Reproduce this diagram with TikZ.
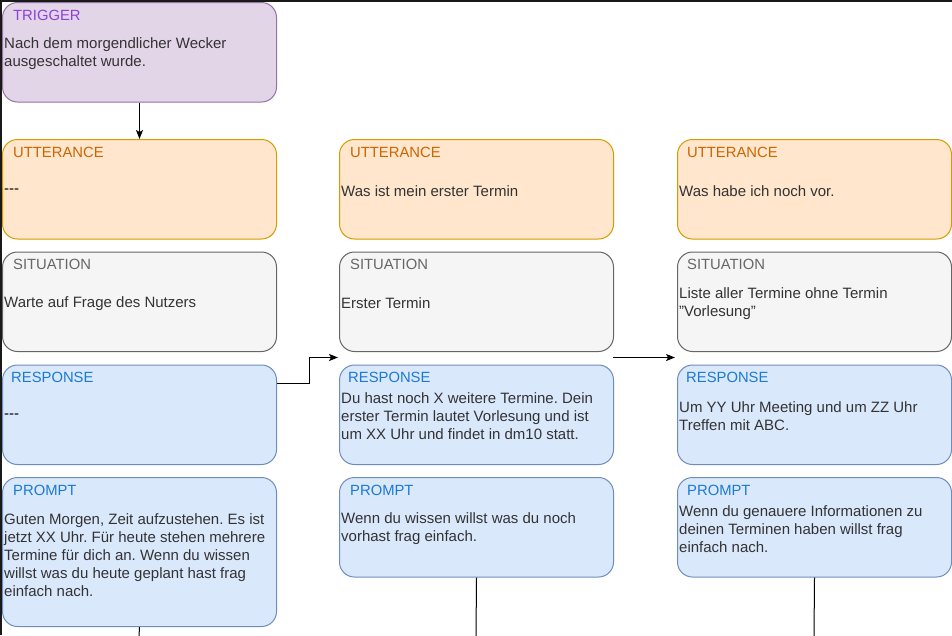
\documentclass[tikz,border=0pt]{standalone}
\usepackage{fontspec}
\setmainfont[Ligatures=NoCommon]{Liberation Sans}
\usetikzlibrary{arrows.meta}
\frenchspacing
\definecolor{trigfill}{HTML}{E1D5E7}
\definecolor{trigdraw}{HTML}{9673A6}
\definecolor{trigtitle}{HTML}{8E3FDC}
\definecolor{uttfill}{HTML}{FFE6CC}
\definecolor{uttdraw}{HTML}{D79B00}
\definecolor{utttitle}{HTML}{CC6600}
\definecolor{sitfill}{HTML}{F5F5F5}
\definecolor{sitdraw}{HTML}{666666}
\definecolor{sittitle}{HTML}{666666}
\definecolor{bluefill}{HTML}{DAE8FC}
\definecolor{bluedraw}{HTML}{6C8EBF}
\definecolor{bluetitle}{HTML}{1A7AD6}
\definecolor{bodytext}{HTML}{333333}
\tikzset{
  box/.style={draw, rounded corners=15pt, line width=1pt, minimum width=274pt,
    minimum height=99.5pt, inner sep=0pt, anchor=north west},
  trigbox/.style={box, fill=trigfill, draw=trigdraw},
  uttbox/.style={box, fill=uttfill, draw=uttdraw},
  sitbox/.style={box, fill=sitfill, draw=sitdraw},
  bluebox/.style={box, fill=bluefill, draw=bluedraw},
  ttl/.style={anchor=base west, inner sep=0pt, font=\fontsize{14.8}{18}\selectfont},
  body/.style={anchor=west, inner sep=0pt, align=left, text=bodytext,
    font=\fontsize{15}{18}\selectfont},
  arr/.style={draw=black, line width=1pt, -{Stealth[length=9pt,width=7pt,inset=2pt]}},
  plainline/.style={draw=black, line width=1pt},
}
\begin{document}
\begin{tikzpicture}[x=1pt,y=-1pt]
\useasboundingbox (0,0) rectangle (952,635);
\fill[white] (0,0) rectangle (952,635);
% screenshot frame on top and left
\draw[line width=1.5pt, black!90] (0.75,635) -- (0.75,0.75) -- (952,0.75);

% ---------- column 1 ----------
\node[trigbox] (trig) at (2,2) {};
\node[ttl, text=trigtitle] (trigT) at ([xshift=11pt,yshift=-18pt]trig.north west) {TRIGGER};
\node[body] (trigB) at ([xshift=2pt,yshift=-1.5pt]trig.west) {Nach dem morgendlicher Wecker\\ausgeschaltet wurde.};

\node[uttbox] (utt1) at (2,139) {};
\node[ttl, text=utttitle] (utt1T) at ([xshift=11pt,yshift=-18pt]utt1.north west) {UTTERANCE};
\node[body, text=black] (utt1B) at ([xshift=2pt,yshift=-1.5pt]utt1.west) {-{}-{}-};

\node[sitbox] (sit1) at (2,251.5) {};
\node[ttl, text=sittitle] (sit1T) at ([xshift=11pt,yshift=-18pt]sit1.north west) {SITUATION};
\node[body] (sit1B) at ([xshift=2pt,yshift=-1.5pt]sit1.west) {Warte auf Frage des Nutzers};

\node[bluebox] (resp1) at (2,364.5) {};
\node[ttl, text=bluetitle] (resp1T) at ([xshift=9pt,yshift=-18pt]resp1.north west) {RESPONSE};
\node[body, text=black] (resp1B) at ([xshift=2pt,yshift=-1.5pt]resp1.west) {-{}-{}-};

\node[bluebox, minimum height=149pt] (prm1) at (2,477) {};
\node[ttl, text=bluetitle] (prm1T) at ([xshift=11pt,yshift=-18pt]prm1.north west) {PROMPT};
\node[body] (prm1B) at ([xshift=2pt,yshift=-3pt]prm1.west) {Guten Morgen, Zeit aufzustehen. Es ist\\jetzt XX Uhr. Für heute stehen mehrere\\Termine für dich an. Wenn du wissen\\willst was du heute geplant hast frag\\einfach nach.};

% ---------- column 2 ----------
\node[uttbox] (utt2) at (339,139) {};
\node[ttl, text=utttitle] (utt2T) at ([xshift=11pt,yshift=-18pt]utt2.north west) {UTTERANCE};
\node[body] (utt2B) at ([xshift=2pt,yshift=-1.5pt]utt2.west) {Was ist mein erster Termin};

\node[sitbox] (sit2) at (339,251.5) {};
\node[ttl, text=sittitle] (sit2T) at ([xshift=11pt,yshift=-18pt]sit2.north west) {SITUATION};
\node[body] (sit2B) at ([xshift=2pt,yshift=-1.5pt]sit2.west) {Erster Termin};

\node[bluebox] (resp2) at (339,364.5) {};
\node[ttl, text=bluetitle] (resp2T) at ([xshift=9pt,yshift=-18pt]resp2.north west) {RESPONSE};
\node[body] (resp2B) at ([xshift=2pt,yshift=-1pt]resp2.west) {Du hast noch X weitere Termine. Dein\\erster Termin lautet Vorlesung und ist\\um XX Uhr und findet in dm10 statt.};

\node[bluebox] (prm2) at (339,477) {};
\node[ttl, text=bluetitle] (prm2T) at ([xshift=11pt,yshift=-18pt]prm2.north west) {PROMPT};
\node[body] (prm2B) at ([xshift=2pt,yshift=-1.5pt]prm2.west) {Wenn du wissen willst was du noch\\vorhast frag einfach.};

% ---------- column 3 ----------
\node[uttbox] (utt3) at (677,139) {};
\node[ttl, text=utttitle] (utt3T) at ([xshift=10pt,yshift=-18pt]utt3.north west) {UTTERANCE};
\node[body] (utt3B) at ([xshift=2pt,yshift=-1.5pt]utt3.west) {Was habe ich noch vor.};

\node[sitbox] (sit3) at (677,251.5) {};
\node[ttl, text=sittitle] (sit3T) at ([xshift=10pt,yshift=-18pt]sit3.north west) {SITUATION};
\node[body] (sit3B) at ([xshift=2pt,yshift=-1.5pt]sit3.west) {Liste aller Termine ohne Termin\\\symbol{34}Vorlesung\symbol{34}};

\node[bluebox] (resp3) at (677,364.5) {};
\node[ttl, text=bluetitle] (resp3T) at ([xshift=9pt,yshift=-18pt]resp3.north west) {RESPONSE};
\node[body] (resp3B) at ([xshift=2pt,yshift=-1.5pt]resp3.west) {Um YY Uhr Meeting und um ZZ Uhr\\Treffen mit ABC.};

\node[bluebox] (prm3) at (677,477) {};
\node[ttl, text=bluetitle] (prm3T) at ([xshift=10pt,yshift=-18pt]prm3.north west) {PROMPT};
\node[body] (prm3B) at ([xshift=2pt,yshift=-1.5pt]prm3.west) {Wenn du genauere Informationen zu\\deinen Terminen haben willst frag\\einfach nach.};

% ---------- connectors ----------
\coordinate (c2in) at (338,357.5);
\coordinate (c2out) at (613,357.5);
\coordinate (c3in) at (675,357.5);
\coordinate (b1) at (139,636);
\coordinate (b2) at (476,636);
\coordinate (b3) at (814,636);

\draw[arr] (trig.south) -- (utt1.north);
\draw[arr] ([yshift=31pt]resp1.east) -- ++(32,0) |- (c2in);
\draw[arr] (c2out) -- (c3in);
\draw[plainline] (prm1.south) -- (b1);
\draw[plainline] (prm2.south) -- (b2);
\draw[plainline] (prm3.south) -- (b3);
\end{tikzpicture}
\end{document}
